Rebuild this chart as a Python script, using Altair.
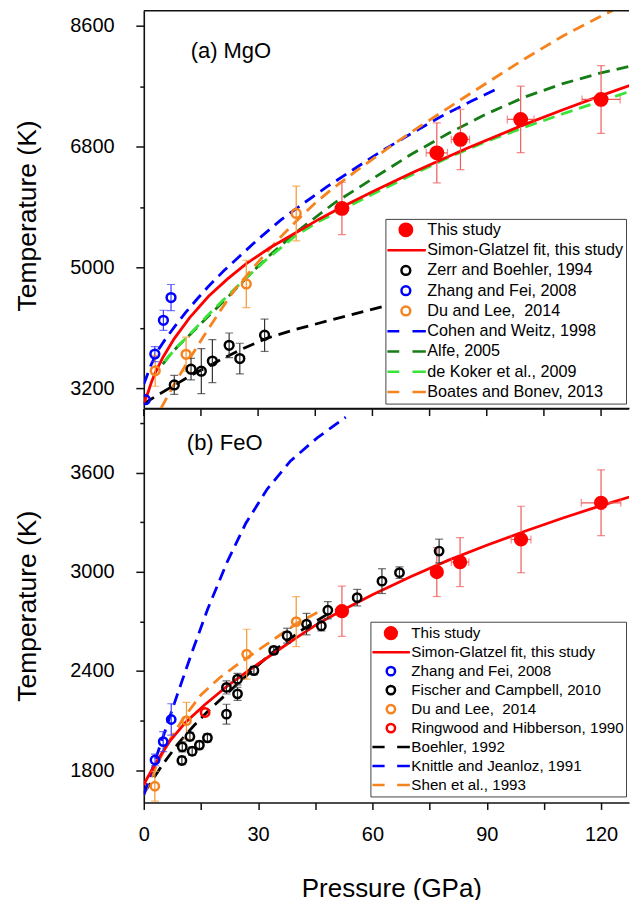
import altair as alt
import pandas as pd

FONT = "Liberation Sans"

# ---------------------------------------------------------------- (a) MgO
MGO_NAMES = ["This study", "Simon-Glatzel fit, this study", "Zerr and Boehler, 1994",
             "Zhang and Fei, 2008", "Du and Lee,\u00a0 2014", "Cohen and Weitz, 1998",
             "Alfe, 2005", "de Koker et al., 2009", "Boates and Bonev, 2013"]

mgo_this_P = [52.0, 76.9, 83.1, 98.9, 120.0]
mgo_this_T = [5880, 6708, 6908, 7206, 7504]
mgo_this_Terr = [390, 446, 450, 496, 505]
mgo_this_Perr = [0, 2.8, 2.4, 3.5, 5.0]

mgo_zerr_P = [8.0, 12.4, 15.1, 18.0, 22.4, 25.2, 31.7]
mgo_zerr_T = [3250, 3485, 3455, 3605, 3840, 3643, 3990]
mgo_zerr_err = [141, 160, 335, 320, 184, 228, 241]

mgo_zhang_P = [0.4, 2.9, 5.15, 7.15]
mgo_zhang_T = [3030, 3710, 4213, 4551]
mgo_zhang_err = [0, 112, 150, 195]

mgo_du_P = [3.0, 11.1, 26.9, 40.0]
mgo_du_T = [3460, 3706, 4755, 5805]
mgo_du_err = [230, 255, 353, 408]

mgo_fit_P = [0, 1, 2, 3, 5, 8, 12, 17, 22, 27, 33, 40, 46, 52, 60, 70, 77, 85, 99, 110, 120, 130]
mgo_fit_T = [2980, 3120, 3290, 3430, 3660, 3940, 4250, 4570, 4830, 5060, 5290, 5520, 5720,
             5900, 6130, 6400, 6580, 6780, 7110, 7350, 7560, 7760]

mgo_zerrfit_P = [0, 4, 8, 12, 16, 20, 26, 32, 40, 49, 63, 80, 100, 115, 130]
mgo_zerrfit_T = [2970, 3110, 3245, 3380, 3500, 3620, 3790, 3940, 4080, 4215, 4420, 4640, 4870, 5010, 5140]

mgo_cohen_P = [0, 2, 4, 6, 8, 11, 14, 17, 21, 25, 30, 36, 42, 48, 55, 62, 70, 78, 86, 93.5]
mgo_cohen_T = [3260, 3560, 3790, 3960, 4110, 4330, 4530, 4720, 4950, 5160, 5420, 5710, 5960,
               6200, 6460, 6720, 6990, 7250, 7480, 7683]

mgo_alfe_P = [5, 6.6, 9, 12.3, 17.6, 22.6, 27, 32.4, 40.3, 50, 60, 70, 80, 90, 100, 110, 120, 130]
mgo_alfe_T = [3560, 3680, 3830, 4010, 4310, 4590, 4850, 5150, 5540, 5960, 6320, 6680, 7000,
              7290, 7540, 7740, 7900, 8030]

mgo_dekoker_P = [5.5, 8, 12, 17, 22, 27, 32, 40, 46, 52, 60, 70, 80, 90, 100, 110, 120, 130]
mgo_dekoker_T = [3600, 3770, 4000, 4300, 4580, 4850, 5110, 5480, 5690, 5860, 6090, 6370, 6640,
                 6880, 7090, 7290, 7480, 7670]

mgo_boates_P = [4.5, 8, 12, 16, 20, 24, 30, 35, 40, 45, 49, 56, 64, 70, 75, 83, 90, 100, 110, 120.6, 123]
mgo_boates_T = [2900, 3260, 3640, 4000, 4350, 4680, 5080, 5400, 5690, 5960, 6150, 6450, 6774,
                7010, 7196, 7494, 7750, 8110, 8450, 8762, 8830]

# ---------------------------------------------------------------- (b) FeO
FEO_NAMES = ["This study", "Simon-Glatzel fit, this study", "Zhang and Fei, 2008",
             "Fischer and Campbell, 2010", "Du and Lee,\u00a0 2014", "Ringwood and Hibberson, 1990",
             "Boehler, 1992", "Knittle and Jeanloz, 1991", "Shen et al., 1993"]

feo_this_P = [52.0, 76.9, 83.0, 99.0, 120.0]
feo_this_T = [2761, 2998, 3058, 3195, 3417]
feo_this_Terr = [152, 148, 148, 201, 199]
feo_this_Perr = [0, 0, 2.3, 2.6, 5.2]

feo_zhang_P = [2.95, 5.1, 7.2]
feo_zhang_T = [1861, 1972, 2106]
feo_zhang_err = [35, 60, 95]

feo_fischer_P = [10.0, 10.1, 12.1, 12.7, 14.6, 16.7, 21.7, 21.7, 24.6, 24.6, 28.9, 34.1, 37.6,
                 42.7, 46.6, 48.3, 56.0, 62.5, 67.1, 77.5]
feo_fischer_T = [1858, 1940, 2003, 1914, 1951, 1995, 2138, 2300, 2350, 2261, 2402, 2524, 2613,
                 2683, 2672, 2767, 2843, 2943, 2994, 3125]
feo_fischer_err = [25, 30, 25, 25, 25, 25, 60, 40, 35, 40, 25, 25, 45, 65, 30, 52, 50, 75, 35, 72]

feo_du_P = [2.9, 11.2, 27.0, 40.0]
feo_du_T = [1702, 2099, 2501, 2698]
feo_du_err = [90, 110, 151, 151]

feo_ring_P = [16.1]
feo_ring_T = [2148]

feo_fit_P = [0, 1, 3, 5, 7, 11, 16, 22, 28, 34, 40, 46, 52, 60, 70, 80, 90, 100, 110, 120, 130]
feo_fit_T = [1710, 1755, 1835, 1910, 1980, 2090, 2195, 2310, 2410, 2505, 2600, 2690, 2765, 2860,
             2970, 3070, 3160, 3245, 3325, 3400, 3470]

feo_boehler_P = [0, 2, 5, 9, 13, 17, 21, 25, 30, 36, 42, 48]
feo_boehler_T = [1660, 1730, 1835, 1960, 2065, 2160, 2245, 2330, 2435, 2555, 2655, 2740]

feo_knittle_P = [0, 3, 6, 9, 12.3, 16.7, 21.9, 26.7, 32.4, 38.5, 45.5, 53]
feo_knittle_T = [1650, 1860, 2065, 2270, 2490, 2770, 3060, 3290, 3500, 3670, 3810, 3935]

feo_shen_P = [0, 3, 6, 10, 15, 20, 25, 30, 35, 40, 46.5]
feo_shen_T = [1650, 1810, 1950, 2100, 2255, 2360, 2445, 2525, 2605, 2685, 2765]

PANEL_LABELS = ["(a) MgO", "(b) FeO"]
PANEL_LABEL_P = [12.3, 11.3]
PANEL_LABEL_T = [8230, 3781]

X_TICKS = [0, 15, 30, 45, 60, 75, 90, 105, 120]
MGO_Y_TICKS = [3200, 4100, 5000, 5900, 6800, 7700, 8600]
FEO_Y_TICKS = [1800, 2100, 2400, 2700, 3000, 3300, 3600, 3900]

# ---------------------------------------------------------------- styles
RED, BLUE, ORANGE, BLACK = "#ff0000", "#0000ff", "#f7831f", "#000000"
DKGREEN, LTGREEN = "#167d16", "#37e437"
RED_E, BLUE_E, ORANGE_E, BLACK_E = "#f05a5a", "#3a3aff", "#f7952f", "#333333"
FRAME = "#111111"


def ring(r):
    return f"M{r},0A{r},{r} 0 1,1 {-r},0A{r},{r} 0 1,1 {r},0Z"


DOT = "".join(ring(r) for r in (0.06, 0.12, 0.18, 0.24, 0.31))
RING = ring(0.22)
LINE = "M-1,0H1"
DASH = "M-1,0H-0.33M0.33,0H1"

# 3.8167 px per GPa, plot width kept inside the 622 px page column
W = 486
XMAX = 127.33


def pts(name, P, T, Terr=None, Perr=None):
    n = len(P)
    return pd.DataFrame({"series": [name] * n, "P": P, "T": T,
                         "Terr": Terr if Terr is not None else [0] * n,
                         "Perr": Perr if Perr is not None else [0] * n})


def lines(name, P, T):
    return pd.DataFrame({"series": [name] * len(P), "P": P, "T": T})


def panel(names, colors, ecolors, shapes, pts_df, dashed_df, fit_df, label, lab_P, lab_T,
          ydom, yvals, ytest, height, title_y, bottom, leg):
    xs = alt.Scale(domain=[0, XMAX], nice=False, zero=False)
    ys = alt.Scale(domain=ydom, nice=False, zero=False)
    cscale = alt.Scale(domain=names, range=colors)
    sscale = alt.Scale(domain=names, range=shapes)
    cmap = dict(zip(names, colors))
    dnames = list(dict.fromkeys(dashed_df["series"]))
    lscale = alt.Scale(domain=dnames, range=[cmap[n] for n in dnames])
    dscale = alt.Scale(domain=dnames, range=[[12, 7]] * len(dnames))
    emap = dict(zip(names, ecolors))
    pts_df = pts_df.copy()
    pts_df["ecol"] = pts_df["series"].map(emap)

    common = dict(domainColor=FRAME, domainWidth=1.6, tickColor=FRAME, tickWidth=1.5,
                  grid=False, labelFont=FONT, labelColor="black", titleFont=FONT,
                  titleColor="black", titleFontWeight="normal")
    yaxis = alt.Axis(values=yvals, format="d", labelExpr=f"{ytest} ? datum.label : ''",
                     tickSize={"condition": {"test": ytest, "value": 8}, "value": 4},
                     labelFontSize=20, labelPadding=21.7, title="Temperature (K)",
                     titleFontSize=26.5, titlePadding=28.3, titleY=title_y, **common)
    if bottom:
        xaxis = alt.Axis(orient="bottom", values=X_TICKS, format="d",
                         labelExpr="datum.value % 30 == 0 ? datum.label : ''", tickSize=7,
                         labelFontSize=20, labelPadding=15.5, labelFlush=False,
                         title="Pressure (GPa)", titleFontSize=26, titlePadding=30.5,
                         titleX=248, **common)
    else:
        xaxis = alt.Axis(orient="bottom", domain=True, ticks=False, labels=False, title=None,
                         domainColor=FRAME, domainWidth=1.6, grid=False)

    def X(field="P"):
        return alt.X(f"{field}:Q", scale=xs, axis=xaxis)

    def Y(field="T"):
        return alt.Y(f"{field}:Q", scale=ys, axis=yaxis)

    dashed = alt.Chart(dashed_df).mark_line(strokeWidth=2.8, clip=True).encode(
        x=X(), y=Y(),
        stroke=alt.Stroke("series:N", scale=lscale, legend=None),
        strokeDash=alt.StrokeDash("series:N", scale=dscale, legend=None))
    fit = alt.Chart(fit_df).mark_line(strokeWidth=2.8, clip=True, color=RED).encode(
        x=X(), y=Y())

    edf = pts_df[pts_df["Terr"] > 0]
    ebase = alt.Chart(edf).transform_calculate(lo="datum.T - datum.Terr", hi="datum.T + datum.Terr")
    erule = ebase.mark_rule(strokeWidth=1.2, clip=True).encode(
        x=X(), y=Y("lo"), y2="hi:Q", stroke=alt.Stroke("ecol:N", scale=None))
    ecap_lo = ebase.mark_tick(orient="horizontal", size=8, thickness=1.2, clip=True).encode(
        x=X(), y=Y("lo"), fill=alt.Fill("ecol:N", scale=None))
    ecap_hi = ebase.mark_tick(orient="horizontal", size=8, thickness=1.2, clip=True).encode(
        x=X(), y=Y("hi"), fill=alt.Fill("ecol:N", scale=None))

    xdf = pts_df[pts_df["Perr"] > 0]
    xbase = alt.Chart(xdf).transform_calculate(plo="datum.P - datum.Perr", phi="datum.P + datum.Perr")
    xrule = xbase.mark_rule(strokeWidth=1.2, clip=True).encode(
        x=X("plo"), x2="phi:Q", y=Y(), stroke=alt.Stroke("ecol:N", scale=None))
    xcap_lo = xbase.mark_tick(orient="vertical", size=8, thickness=1.2, clip=True).encode(
        x=X("plo"), y=Y(), fill=alt.Fill("ecol:N", scale=None))
    xcap_hi = xbase.mark_tick(orient="vertical", size=8, thickness=1.2, clip=True).encode(
        x=X("phi"), y=Y(), fill=alt.Fill("ecol:N", scale=None))

    legend = alt.Legend(title=None, orient="none", legendX=leg["x"], legendY=leg["y"],
                        direction="vertical", labelFont=FONT, labelFontSize=leg["fs"],
                        labelColor="black", labelLimit=400, symbolSize=leg["size"],
                        symbolStrokeWidth=2.5, clipHeight=leg["clip"], rowPadding=leg["rp"],
                        padding=2, labelOffset=0, symbolOffset=leg["so"],
                        strokeColor="#444", fillColor="white", cornerRadius=0)
    points = alt.Chart(pts_df).mark_point(filled=False, strokeWidth=2.5, opacity=1,
                                          size=leg["size"], clip=True).encode(
        x=X(), y=Y(),
        color=alt.Color("series:N", scale=cscale, legend=legend),
        shape=alt.Shape("series:N", scale=sscale, legend=legend))

    tdf = pd.DataFrame({"label": [label], "P": [lab_P], "T": [lab_T]})
    text = alt.Chart(tdf).mark_text(align="left", baseline="middle", font=FONT, fontSize=22,
                                    color="black").encode(x=X(), y=Y(), text="label:N")

    # top frame edge (and, for the lower panel, the inward-pointing ticks on it)
    frame_top = alt.Chart(pd.DataFrame({"k": [0]})).mark_rule(
        color=FRAME, strokeWidth=1.6).encode(x=alt.value(0), x2=alt.value(W), y=alt.value(0))
    layers = [dashed, fit, erule, ecap_lo, ecap_hi, xrule, xcap_lo, xcap_hi, points, text,
              frame_top]
    if bottom:
        tick_df = pd.DataFrame({"P": X_TICKS})
        inner_ticks = alt.Chart(tick_df).mark_rule(color=FRAME, strokeWidth=1.5).encode(
            x=X(), y=alt.value(0), y2=alt.value(7))
        layers.append(inner_ticks)

    return alt.layer(*layers).properties(width=W, height=height)


# ---- MgO panel
mgo_colors = [RED, RED, BLACK, BLUE, ORANGE, BLUE, DKGREEN, LTGREEN, ORANGE]
mgo_ecolors = [RED_E, RED_E, BLACK_E, BLUE_E, ORANGE_E, BLUE_E, DKGREEN, LTGREEN, ORANGE_E]
mgo_shapes = [DOT, LINE, RING, RING, RING, DASH, DASH, DASH, DASH]
mgo_pts = pd.concat([
    pts(MGO_NAMES[2], mgo_zerr_P, mgo_zerr_T, mgo_zerr_err),
    pts(MGO_NAMES[3], mgo_zhang_P, mgo_zhang_T, mgo_zhang_err),
    pts(MGO_NAMES[4], mgo_du_P, mgo_du_T, mgo_du_err),
    pts(MGO_NAMES[0], mgo_this_P, mgo_this_T, mgo_this_Terr, mgo_this_Perr),
], ignore_index=True)
mgo_dashed = pd.concat([
    lines(MGO_NAMES[2], mgo_zerrfit_P, mgo_zerrfit_T),
    lines(MGO_NAMES[6], mgo_alfe_P, mgo_alfe_T),
    lines(MGO_NAMES[7], mgo_dekoker_P, mgo_dekoker_T),
    lines(MGO_NAMES[5], mgo_cohen_P, mgo_cohen_T),
    lines(MGO_NAMES[8], mgo_boates_P, mgo_boates_T),
], ignore_index=True)
mgo_fit = lines(MGO_NAMES[1], mgo_fit_P, mgo_fit_T)

top = panel(MGO_NAMES, mgo_colors, mgo_ecolors, mgo_shapes, mgo_pts, mgo_dashed, mgo_fit,
            PANEL_LABELS[0], PANEL_LABEL_P[0], PANEL_LABEL_T[0],
            [2905, 8826], MGO_Y_TICKS, "datum.value % 1800 == 1400", 398, 205, False,
            dict(x=242, y=208.5, fs=16.2, size=1600, clip=18, rp=2.3, so=-3))

# ---- FeO panel
feo_colors = [RED, RED, BLUE, BLACK, ORANGE, RED, BLACK, BLUE, ORANGE]
feo_ecolors = [RED_E, RED_E, BLUE_E, BLACK_E, ORANGE_E, RED_E, BLACK_E, BLUE_E, ORANGE_E]
feo_shapes = [DOT, LINE, RING, RING, RING, RING, DASH, DASH, DASH]
feo_pts = pd.concat([
    pts(FEO_NAMES[3], feo_fischer_P, feo_fischer_T, feo_fischer_err),
    pts(FEO_NAMES[2], feo_zhang_P, feo_zhang_T, feo_zhang_err),
    pts(FEO_NAMES[4], feo_du_P, feo_du_T, feo_du_err),
    pts(FEO_NAMES[5], feo_ring_P, feo_ring_T),
    pts(FEO_NAMES[0], feo_this_P, feo_this_T, feo_this_Terr, feo_this_Perr),
], ignore_index=True)
feo_dashed = pd.concat([
    lines(FEO_NAMES[6], feo_boehler_P, feo_boehler_T),
    lines(FEO_NAMES[8], feo_shen_P, feo_shen_T),
    lines(FEO_NAMES[7], feo_knittle_P, feo_knittle_T),
], ignore_index=True)
feo_fit = lines(FEO_NAMES[1], feo_fit_P, feo_fit_T)

bottom = panel(FEO_NAMES, feo_colors, feo_ecolors, feo_shapes, feo_pts, feo_dashed, feo_fit,
               PANEL_LABELS[1], PANEL_LABEL_P[1], PANEL_LABEL_T[1],
               [1604, 3984], FEO_Y_TICKS, "datum.value % 600 == 0", 394, 197, True,
               dict(x=227, y=213, fs=15.2, size=1444, clip=19, rp=0.0, so=-2))

chart = alt.vconcat(top, bottom, spacing=0).resolve_scale(
    x="independent", y="independent", color="independent", shape="independent",
    stroke="independent", strokeDash="independent"
).resolve_legend(color="independent", shape="independent").properties(
    padding={"left": 6, "top": 1, "right": 0, "bottom": 0}
).configure(font=FONT).configure_view(stroke=None)

chart.save("out.html", embed_options={"renderer": "svg", "actions": False})
